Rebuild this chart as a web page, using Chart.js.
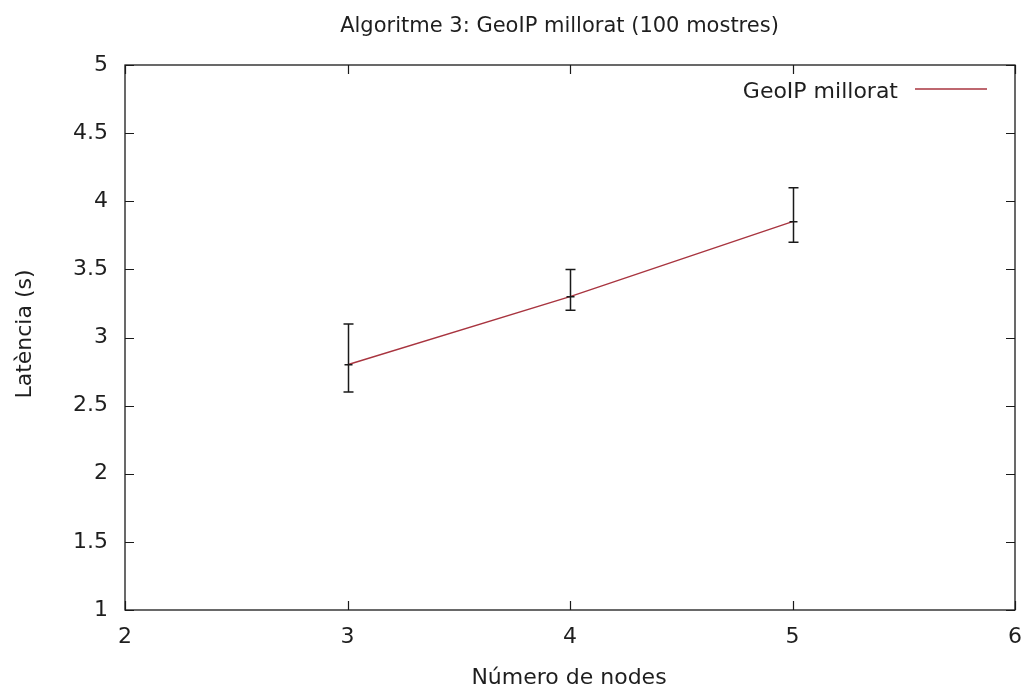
<!DOCTYPE html>
<html>
<head>
<meta charset="utf-8">
<script src="https://cdn.jsdelivr.net/npm/chart.js@4/dist/chart.umd.min.js"></script>
<style>
  html, body { margin: 0; padding: 0; background: #ffffff; }
  canvas { display: block; }
</style>
</head>
<body>
<canvas id="c" width="1023" height="687"></canvas>
<script>
// ---- data ----
const chartTitle = "Algoritme 3: GeoIP millorat (100 mostres)";
const xTitle = "Número de nodes";
const yTitle = "Latència (s)";
const seriesLabel = "GeoIP millorat";
const nodes = [3, 4, 5];
const latency = [2.8, 3.3, 3.85];
const errLow = [2.6, 3.2, 3.7];
const errHigh = [3.1, 3.5, 4.1];
const xTicks = [2, 3, 4, 5, 6];
const yTicks = [1, 1.5, 2, 2.5, 3, 3.5, 4, 4.5, 5];

const FONT = "'DejaVu Sans', sans-serif";
const TEXT = '#1e1e1e';
const LINE = '#a8343f';
const INK = '#1a1a1a';

Chart.defaults.font.family = FONT;
Chart.defaults.color = TEXT;

const gnuplotPlugin = {
  id: 'gnuplotDecor',
  afterDatasetsDraw(chart) {
    const ctx = chart.ctx;
    const xs = chart.scales.x, ys = chart.scales.y;
    const a = chart.chartArea;
    ctx.save();
    // error bars
    ctx.strokeStyle = INK;
    ctx.lineWidth = 1.5;
    for (let i = 0; i < nodes.length; i++) {
      const px = Math.round(xs.getPixelForValue(nodes[i])) + 0.5;
      const pl = ys.getPixelForValue(errLow[i]);
      const ph = ys.getPixelForValue(errHigh[i]);
      const pc = ys.getPixelForValue(latency[i]);
      ctx.beginPath();
      ctx.moveTo(px, pl); ctx.lineTo(px, ph);
      ctx.moveTo(px - 5, pl); ctx.lineTo(px + 5, pl);
      ctx.moveTo(px - 5, ph); ctx.lineTo(px + 5, ph);
      ctx.moveTo(px - 4, pc); ctx.lineTo(px + 4, pc);
      ctx.stroke();
    }
    // frame
    ctx.lineWidth = 1.3;
    ctx.strokeStyle = INK;
    ctx.strokeRect(a.left, a.top, a.right - a.left, a.bottom - a.top);
    // inward ticks on all sides
    const tl = 9;
    ctx.lineWidth = 1.2;
    ctx.beginPath();
    xTicks.forEach(v => {
      const p = Math.round(xs.getPixelForValue(v)) + 0.5;
      ctx.moveTo(p, a.bottom); ctx.lineTo(p, a.bottom - tl);
      ctx.moveTo(p, a.top); ctx.lineTo(p, a.top + tl);
    });
    yTicks.forEach(v => {
      const p = Math.round(ys.getPixelForValue(v)) + 0.5;
      ctx.moveTo(a.left, p); ctx.lineTo(a.left + tl, p);
      ctx.moveTo(a.right, p); ctx.lineTo(a.right - tl, p);
    });
    ctx.stroke();
    // legend
    ctx.fillStyle = TEXT;
    ctx.font = "22px " + FONT;
    ctx.textAlign = 'right';
    ctx.textBaseline = 'alphabetic';
    ctx.fillText(seriesLabel, 898, 98);
    ctx.strokeStyle = LINE;
    ctx.lineWidth = 1.4;
    ctx.beginPath();
    ctx.moveTo(915, 89); ctx.lineTo(987, 89);
    ctx.stroke();
    // main title
    ctx.fillStyle = TEXT;
    ctx.textAlign = 'center';
    ctx.font = "21px " + FONT;
    ctx.fillText(chartTitle, 559.5, 32);
    // x title
    ctx.font = "22px " + FONT;
    ctx.fillText(xTitle, 569, 684);
    // y title
    ctx.translate(25, 334);
    ctx.rotate(-Math.PI / 2);
    ctx.textBaseline = 'middle';
    ctx.fillText(yTitle, 0, 0);
    ctx.restore();
  }
};

new Chart(document.getElementById('c'), {
  type: 'line',
  data: {
    datasets: [{
      label: seriesLabel,
      data: nodes.map((n, i) => ({ x: n, y: latency[i] })),
      borderColor: LINE,
      borderWidth: 1.4,
      pointRadius: 0,
      tension: 0,
      fill: false
    }]
  },
  options: {
    responsive: false,
    animation: false,
    devicePixelRatio: 1,
    layout: { padding: { top: 65, right: 8, left: 0, bottom: 0 } },
    plugins: {
      legend: { display: false },
      title: { display: false },
      tooltip: { enabled: false }
    },
    scales: {
      x: {
        type: 'linear',
        min: 2, max: 6,
        afterFit: s => { s.height = 77; s.paddingLeft = 0; s.paddingRight = 0; },
        afterBuildTicks: s => { s.ticks = xTicks.map(v => ({ value: v })); },
        grid: { display: false, drawTicks: false },
        border: { display: false },
        ticks: { font: { size: 22, lineHeight: 1.2 }, color: TEXT, padding: 14, autoSkip: false, maxRotation: 0,
                 callback: v => String(v) }
      },
      y: {
        type: 'linear',
        min: 1, max: 5,
        afterFit: s => { s.width = 125; s.paddingTop = 0; s.paddingBottom = 0; },
        afterBuildTicks: s => { s.ticks = yTicks.map(v => ({ value: v })); },
        grid: { display: false, drawTicks: false },
        border: { display: false },
        ticks: { font: { size: 22, lineHeight: 1.2 }, color: TEXT, padding: 17, autoSkip: false,
                 callback: v => String(v) }
      }
    }
  },
  plugins: [gnuplotPlugin]
});
</script>
</body>
</html>
